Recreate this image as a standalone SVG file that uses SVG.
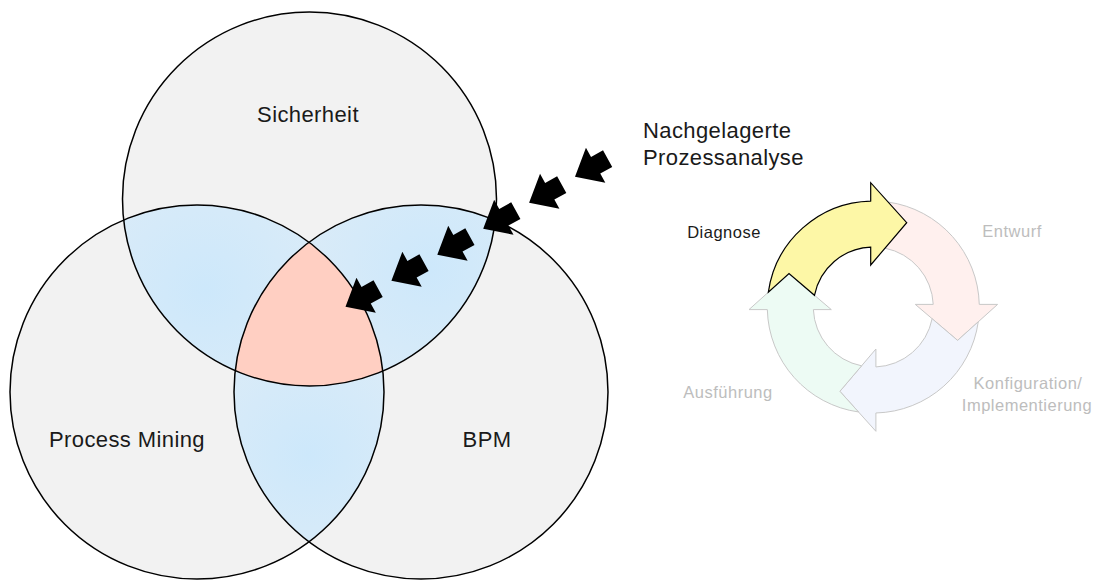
<svg xmlns="http://www.w3.org/2000/svg" xmlns:xlink="http://www.w3.org/1999/xlink" width="1098" height="581" viewBox="0 0 1098 581">
  <style>
    .lbl { font-family: "Liberation Sans", Arial, sans-serif; fill: #1a1a1a; }
    .big { font-size: 22px; letter-spacing: 0.4px; }
    .small { font-size: 16.5px; letter-spacing: 0.5px; }
    .faded { fill: #bdbdbd; }
    .ring { fill: none; stroke: #000; stroke-width: 1.5; }
    .base { fill: #f2f2f2; }
    .seg { stroke: #c8c8c8; stroke-width: 1; stroke-linejoin: miter; }
  </style>
  <defs>
    <clipPath id="clipTop"><circle cx="309.5" cy="199" r="187"/></clipPath>
    <clipPath id="clipLeft"><circle cx="197" cy="392" r="187"/></clipPath>
    <clipPath id="clipRight"><circle cx="421" cy="392" r="187"/></clipPath>
    <radialGradient id="gTL" gradientUnits="userSpaceOnUse" cx="205" cy="290" r="120">
      <stop offset="0" stop-color="#cde8fb"/>
      <stop offset="1" stop-color="#d9ebf8"/>
    </radialGradient>
    <radialGradient id="gTR" gradientUnits="userSpaceOnUse" cx="430" cy="270" r="120">
      <stop offset="0" stop-color="#cde8fb"/>
      <stop offset="1" stop-color="#d9ebf8"/>
    </radialGradient>
    <radialGradient id="gLR" gradientUnits="userSpaceOnUse" cx="309" cy="455" r="110">
      <stop offset="0" stop-color="#cde8fb"/>
      <stop offset="1" stop-color="#d9ebf8"/>
    </radialGradient>
    <!-- block arrow, tip at origin pointing along +x -->
    <path id="blk" d="M0,0 L-23.6,-20 L-23.6,-9.5 L-37.3,-9.5 L-37.3,9.5 L-23.6,9.5 L-23.6,20 Z" fill="#000"/>
    <!-- one quarter of the cycle ring, head at the top pointing clockwise -->
    <path id="seg" d="M-104.96,-14.8 A106,106 0 0 1 -2.6,-105.97 L-2.6,-124.3 L33.4,-84.3 L-2.6,-42 L-2.6,-59.94 A60,60 0 0 0 -58.84,-11.73 L-84.3,-33.4 Z"/>
  </defs>

  <rect width="1098" height="581" fill="#fff"/>

  <!-- Venn diagram -->
  <g id="venn-fills">
    <circle class="base" cx="309.5" cy="199" r="187"/>
    <circle class="base" cx="197" cy="392" r="187"/>
    <circle class="base" cx="421" cy="392" r="187"/>
    <g clip-path="url(#clipLeft)"><circle cx="309.5" cy="199" r="187" fill="url(#gTL)"/></g>
    <g clip-path="url(#clipRight)"><circle cx="309.5" cy="199" r="187" fill="url(#gTR)"/></g>
    <g clip-path="url(#clipRight)"><circle cx="197" cy="392" r="187" fill="url(#gLR)"/></g>
    <g clip-path="url(#clipLeft)"><g clip-path="url(#clipRight)"><circle cx="309.5" cy="199" r="187" fill="#ffcfc2"/></g></g>
  </g>
  <g id="sicherheit">
    <circle class="ring" cx="309.5" cy="199" r="187"/>
    <text class="lbl big" x="308" y="122" text-anchor="middle">Sicherheit</text>
  </g>
  <g id="process-mining">
    <circle class="ring" cx="197" cy="392" r="187"/>
    <text class="lbl big" x="127" y="447" text-anchor="middle">Process Mining</text>
  </g>
  <g id="bpm">
    <circle class="ring" cx="421" cy="392" r="187"/>
    <text class="lbl big" x="487" y="447" text-anchor="middle">BPM</text>
  </g>

  <g id="nachgelagerte-prozessanalyse">
    <text class="lbl big" x="643" y="138">Nachgelagerte</text>
    <text class="lbl big" x="643" y="165">Prozessanalyse</text>
  </g>

  <g id="connectors">
    <use xlink:href="#blk" transform="translate(575,176.7) rotate(151)"/>
    <use xlink:href="#blk" transform="translate(529.1,202.7) rotate(151)"/>
    <use xlink:href="#blk" transform="translate(483.2,228.7) rotate(151)"/>
    <use xlink:href="#blk" transform="translate(437.3,254.7) rotate(151)"/>
    <use xlink:href="#blk" transform="translate(391.4,280.7) rotate(151)"/>
    <use xlink:href="#blk" transform="translate(345.5,306.7) rotate(151)"/>
  </g>

  <!-- cycle -->
  <g id="entwurf">
    <use xlink:href="#seg" class="seg" fill="#fff0ee" transform="translate(873.3,307) rotate(90)"/>
    <text class="lbl small faded" x="1012" y="237" text-anchor="middle">Entwurf</text>
  </g>
  <g id="konfiguration">
    <use xlink:href="#seg" class="seg" fill="#f2f5fd" transform="translate(873.3,307) rotate(180)"/>
    <text class="lbl small faded" x="1028" y="389" text-anchor="middle">Konfiguration/</text>
    <text class="lbl small faded" x="1027" y="411" text-anchor="middle">Implementierung</text>
  </g>
  <g id="ausfuehrung">
    <use xlink:href="#seg" class="seg" fill="#edfbf4" transform="translate(873.3,307) rotate(270)"/>
    <text class="lbl small faded" x="728" y="398" text-anchor="middle">Ausführung</text>
  </g>
  <g id="diagnose">
    <use xlink:href="#seg" fill="#fdf7a6" stroke="#000" stroke-width="1.2" transform="translate(873.3,307)"/>
    <text class="lbl small" x="724" y="238" text-anchor="middle">Diagnose</text>
  </g>
</svg>
